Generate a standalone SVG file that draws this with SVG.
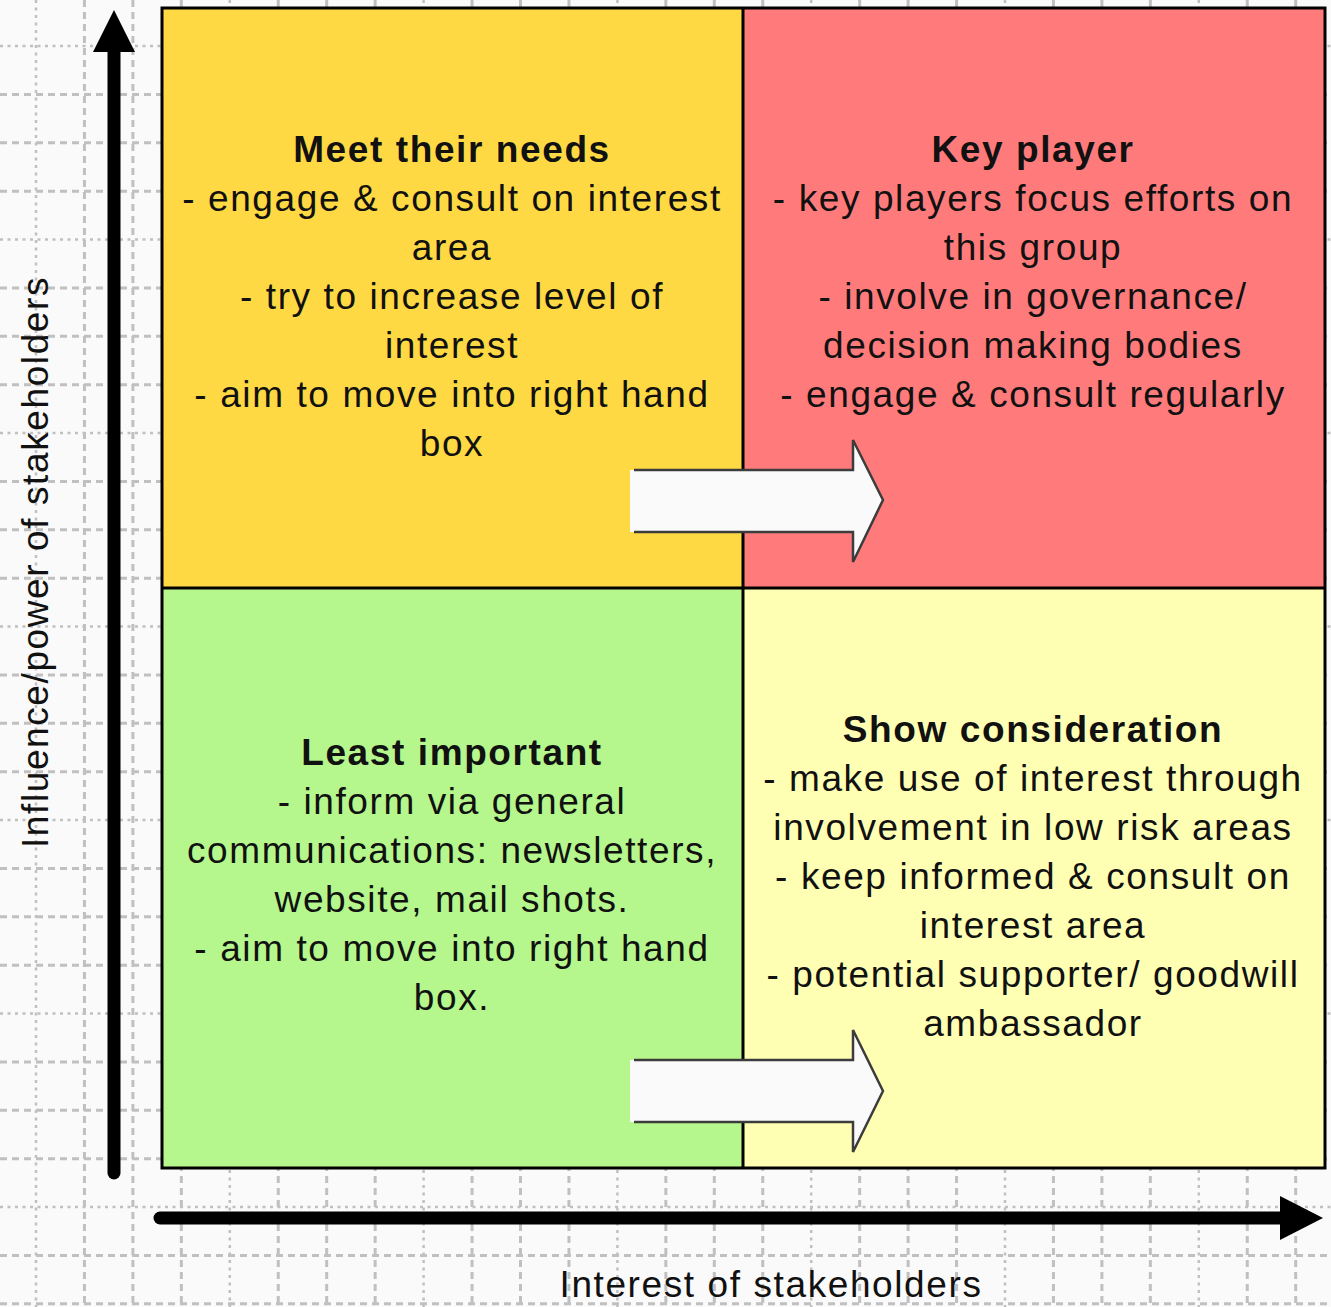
<svg xmlns="http://www.w3.org/2000/svg" width="1331" height="1307" viewBox="0 0 1331 1307">
<style>
.gd{fill:none;stroke:#c0c0c0;stroke-width:3;stroke-dasharray:7 5}
.gt{fill:none;stroke:#c0c0c0;stroke-width:2.5;stroke-dasharray:3 4.5}
.q{stroke:none}
.t{font-family:"Liberation Sans",Arial,sans-serif;font-size:37px;letter-spacing:1.6px;fill:#111;text-anchor:middle}
.b{font-weight:bold}
.blk{fill:#fafafa;stroke:none}
.blko{fill:none;stroke:#3c3c3c;stroke-width:2.5;stroke-linejoin:miter}
</style>
<rect x="0" y="0" width="1331" height="1307" fill="#fafafa"/>
<g id="grid">
<path class="gt" d="M36 0V1307M229.8 0V1307M423.6 0V1307M617.4 0V1307M811.2 0V1307M1005 0V1307M1198.8 0V1307"/>
<path class="gd" d="M84.45 0V1307M132.9 0V1307M181.35 0V1307M278.25 0V1307M326.7 0V1307M375.15 0V1307M472.05 0V1307M520.5 0V1307M568.95 0V1307M665.85 0V1307M714.3 0V1307M762.75 0V1307M859.65 0V1307M908.1 0V1307M956.55 0V1307M1053.45 0V1307M1101.9 0V1307M1150.35 0V1307M1247.25 0V1307M1295.7 0V1307"/>
<path class="gt" d="M0 46H1331M0 239.5H1331M0 433H1331M0 626.5H1331M0 820H1331M0 1013.5H1331M0 1207H1331"/>
<path class="gd" d="M0 94.375H1331M0 142.75H1331M0 191.125H1331M0 287.875H1331M0 336.25H1331M0 384.625H1331M0 481.375H1331M0 529.75H1331M0 578.125H1331M0 674.875H1331M0 723.25H1331M0 771.625H1331M0 868.375H1331M0 916.75H1331M0 965.125H1331M0 1061.875H1331M0 1110.25H1331M0 1158.625H1331M0 1255.375H1331M0 1303.75H1331"/>
</g>
<g id="meet-their-needs">
<rect class="q" x="162" y="8" width="581" height="580" fill="#ffd944"/>
<text class="t b" x="452" y="162">Meet their needs</text>
<text class="t" x="452" y="211">- engage &amp; consult on interest</text>
<text class="t" x="452" y="260">area</text>
<text class="t" x="452" y="309">- try to increase level of</text>
<text class="t" x="452" y="358">interest</text>
<text class="t" x="452" y="407">- aim to move into right hand</text>
<text class="t" x="452" y="456">box</text>
</g>
<g id="key-player">
<rect class="q" x="743" y="8" width="582" height="580" fill="#ff7b7b"/>
<text class="t b" x="1033" y="162">Key player</text>
<text class="t" x="1033" y="211">- key players focus efforts on</text>
<text class="t" x="1033" y="260">this group</text>
<text class="t" x="1033" y="309">- involve in governance/</text>
<text class="t" x="1033" y="358">decision making bodies</text>
<text class="t" x="1033" y="407">- engage &amp; consult regularly</text>
</g>
<g id="least-important">
<rect class="q" x="162" y="588" width="581" height="580" fill="#b5f78c"/>
<text class="t b" x="452" y="765">Least important</text>
<text class="t" x="452" y="814">- inform via general</text>
<text class="t" x="452" y="863">communications: newsletters,</text>
<text class="t" x="452" y="912">website, mail shots.</text>
<text class="t" x="452" y="961">- aim to move into right hand</text>
<text class="t" x="452" y="1010">box.</text>
</g>
<g id="show-consideration">
<rect class="q" x="743" y="588" width="582" height="580" fill="#ffffb4"/>
<text class="t b" x="1033" y="742">Show consideration</text>
<text class="t" x="1033" y="791">- make use of interest through</text>
<text class="t" x="1033" y="840">involvement in low risk areas</text>
<text class="t" x="1033" y="889">- keep informed &amp; consult on</text>
<text class="t" x="1033" y="938">interest area</text>
<text class="t" x="1033" y="987">- potential supporter/ goodwill</text>
<text class="t" x="1033" y="1036">ambassador</text>
</g>
<g id="frame" fill="none" stroke="#000" stroke-width="3">
<rect x="162" y="8" width="1163" height="1160"/>
<path d="M743 8V1168M162 588H1325"/>
</g>
<g id="connectors">
<path d="M114 50V1173" stroke="#000" stroke-width="13" stroke-linecap="round" fill="none"/>
<polygon points="93,52 114,10 135,52" fill="#000"/>
<path d="M160 1218H1285" stroke="#000" stroke-width="13" stroke-linecap="round" fill="none"/>
<polygon points="1280,1196 1323,1218 1280,1240" fill="#000"/>
<polygon class="blk" points="630,470 853,470 853,440 883,500 853,562 853,532 630,532"/>
<polyline class="blko" points="634,470 853,470 853,440 883,500 853,562 853,532 634,532"/>
<polygon class="blk" points="630,1060 853,1060 853,1030 883,1091 853,1152 853,1122 630,1122"/>
<polyline class="blko" points="634,1060 853,1060 853,1030 883,1091 853,1152 853,1122 634,1122"/>
</g>
<g id="axis-labels">
<text class="t" x="0" y="0" transform="translate(48 562) rotate(-90)">Influence/power of stakeholders</text>
<text class="t" x="771" y="1297">Interest of stakeholders</text>
</g>
</svg>
